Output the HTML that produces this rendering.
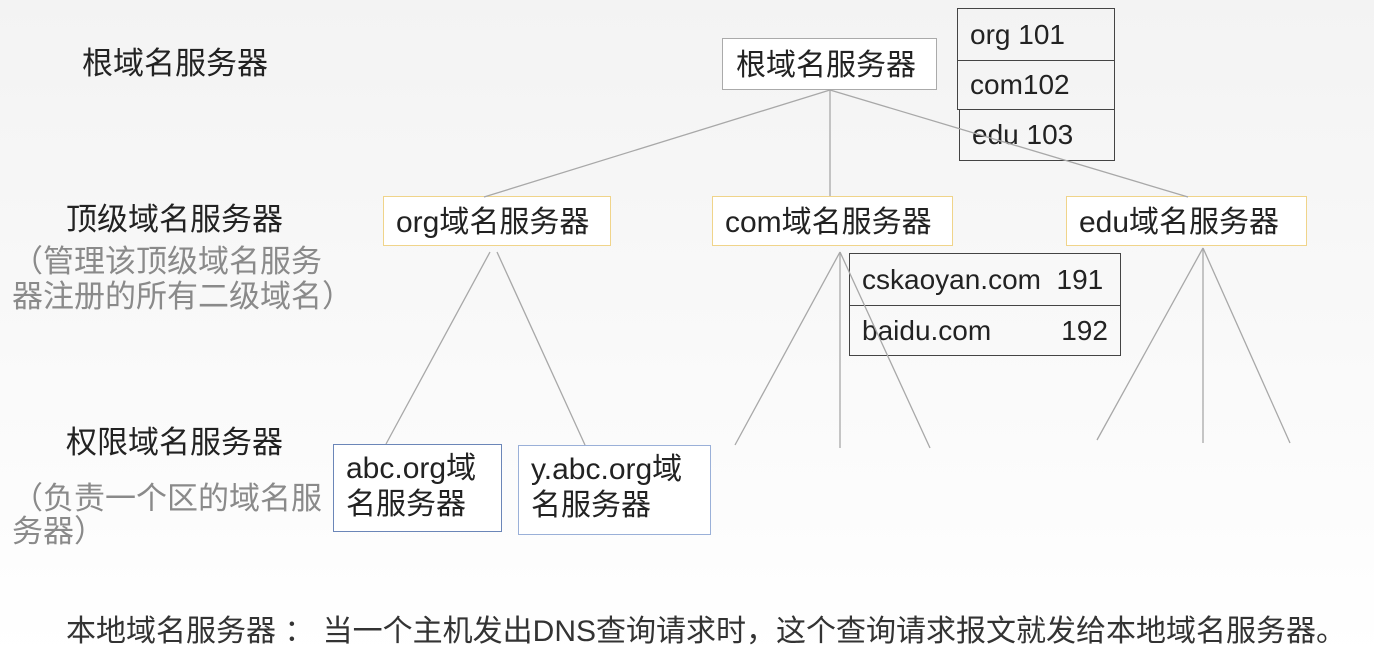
<!DOCTYPE html>
<html><head><meta charset="utf-8"><style>
body{margin:0;width:1374px;height:658px;overflow:hidden;background:linear-gradient(#f3f3f3,#fafafa 60%,#fff);font-family:"Liberation Sans","Noto Sans CJK SC",sans-serif;}
.a{position:absolute;white-space:nowrap;line-height:1;}
.t{font-size:31px;color:#222;}
.g{font-size:31px;color:#8a8a8a;}
.box{position:absolute;box-sizing:border-box;background:#fff;font-size:30px;color:#222;display:flex;align-items:center;white-space:nowrap;}
.cell{position:absolute;box-sizing:border-box;border:1.5px solid #444;font-size:28px;color:#222;padding-left:12px;display:flex;align-items:center;white-space:nowrap;}
svg{position:absolute;left:0;top:0;}
</style></head><body>
<div class="a t" style="left:82px;top:48px">根域名服务器</div>
<div class="a t" style="left:66px;top:204px">顶级域名服务器</div>
<div class="a g" style="left:12px;top:246px">（管理该顶级域名服务</div>
<div class="a g" style="left:12px;top:281px">器注册的所有二级域名）</div>
<div class="a t" style="left:66px;top:427px">权限域名服务器</div>
<div class="a g" style="left:12px;top:483px">（负责一个区的域名服</div>
<div class="a g" style="left:12px;top:516px">务器）</div>

<div class="box" style="left:722px;top:38px;width:215px;height:52px;border:1px solid #aaa;padding:0 0 4px 13px;font-size:30px">根域名服务器</div>
<div class="box" style="left:383px;top:196px;width:228px;height:50px;border:1.5px solid #f0d48a;padding:0 0 4px 12px">org域名服务器</div>
<div class="box" style="left:712px;top:196px;width:241px;height:50px;border:1.5px solid #f0d48a;padding:0 0 4px 12px">com域名服务器</div>
<div class="box" style="left:1066px;top:196px;width:241px;height:50px;border:1.5px solid #f0d48a;padding:0 0 4px 12px">edu域名服务器</div>
<div class="box" style="left:333px;top:444px;width:169px;height:88px;border:1.5px solid #6b86b8;padding:6px 0 4px 12px;line-height:36px;align-items:flex-start">abc.org域<br>名服务器</div>
<div class="box" style="left:518px;top:445px;width:193px;height:90px;border:1.5px solid #9ab0d8;padding:6px 0 4px 12px;line-height:36px;align-items:flex-start">y.abc.org域<br>名服务器</div>

<div class="cell" style="left:957px;top:8px;width:158px;height:53px">org 101</div>
<div class="cell" style="left:957px;top:60px;width:158px;height:50px">com102</div>
<div class="cell" style="left:959px;top:109px;width:156px;height:52px">edu 103</div>
<div class="cell" style="left:849px;top:253px;width:272px;height:53px">cskaoyan.com&nbsp; 191</div>
<div class="cell" style="left:849px;top:305px;width:272px;height:51px">baidu.com&nbsp;&nbsp;&nbsp;&nbsp;&nbsp;&nbsp;&nbsp;&nbsp;&nbsp;192</div>

<svg width="1374" height="658" stroke="#a8a8a8" stroke-width="1.3" fill="none">
<line x1="830" y1="90" x2="484" y2="197"/>
<line x1="830" y1="90" x2="830" y2="196"/>
<line x1="830" y1="90" x2="1188" y2="197"/>
<line x1="490" y1="252" x2="386" y2="444"/>
<line x1="497" y1="252" x2="585" y2="445"/>
<line x1="840" y1="252" x2="735" y2="445"/>
<line x1="840" y1="252" x2="840" y2="448"/>
<line x1="840" y1="252" x2="930" y2="448"/>
<line x1="1203" y1="248" x2="1097" y2="440"/>
<line x1="1203" y1="248" x2="1203" y2="443"/>
<line x1="1203" y1="248" x2="1290" y2="443"/>
</svg>

<div class="a t" style="left:66px;top:617px;color:#333;font-size:30px">本地域名服务器 ： 当一个主机发出DNS查询请求时，这个查询请求报文就发给本地域名服务器。</div>
</body></html>
